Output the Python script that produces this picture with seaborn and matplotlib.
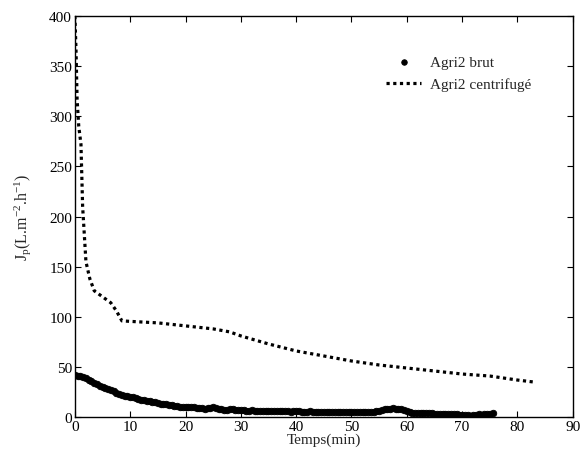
import seaborn as sns
import matplotlib.pyplot as plt

# Agri2 brut: permeate flux, one reading every 0.5 min
t_brut = [i * 0.5 for i in range(152)]
j_brut = [42, 41.5, 41, 40, 39, 37.5, 36, 34.5, 33, 31.5,
          30, 29, 28, 27, 26, 24.5, 23, 22, 21, 21,
          20.5, 20, 19, 18, 17.5, 17, 16.5, 16, 15.5, 15,
          14, 13.5, 13, 13, 12.5, 12, 11, 11, 10.5, 10.5,
          10.5, 10, 10, 10, 9.5, 9, 9, 8.5, 9, 9.5,
          10, 9.5, 8.5, 8, 7.5, 7.5, 8, 8, 7.5, 7,
          7, 7, 6.5, 6.5, 7, 6.5, 6.5, 6.5, 6, 6.5,
          6.5, 6, 6, 6.5, 6.5, 6, 6, 6, 5.5, 6,
          6, 6, 5.5, 5.5, 5.5, 6, 5.5, 5.5, 5.5, 5.5,
          5.5, 5.5, 5, 5, 5.5, 5, 5, 5, 5, 5,
          5, 5, 5, 5.5, 5, 5, 5, 5, 5.5, 6,
          6.5, 7.5, 8, 8.5, 8.5, 9, 8.5, 8.5, 8, 7.5,
          6.5, 5.5, 4.5, 4, 4, 4.5, 4.5, 4, 4, 4,
          3.5, 3.5, 3.5, 3, 3.5, 3, 3, 3, 3, 2.5,
          2.5, 2, 2, 1.5, 2, 2.5, 3, 2.5, 3, 3.5,
          3.5, 4.5]

# Agri2 centrifuge
t_centri = [0, 0.2, 0.4, 0.7, 1.1, 1.4, 2, 2.7, 3.5, 4.5, 5.5, 6.5,
            7.5, 8.5, 10, 15, 20, 25, 28, 30, 35, 40, 45, 50,
            55, 60, 65, 70, 75, 80, 83]
j_centri = [400, 367, 317, 290, 272, 210, 155, 138, 126, 122, 118, 114,
            106, 96, 95.5, 94, 91, 88, 85, 81, 73, 66, 61, 56,
            52, 49, 46, 43, 41, 37, 35]

x_ticks = [0, 10, 20, 30, 40, 50, 60, 70, 80, 90]
y_ticks = [0, 50, 100, 150, 200, 250, 300, 350, 400]

sns.set_theme(style='ticks')
plt.rcParams['font.family'] = ['Liberation Serif', 'DejaVu Serif']
plt.rcParams['mathtext.fontset'] = 'custom'
plt.rcParams['mathtext.rm'] = 'Liberation Serif'
plt.rcParams['mathtext.it'] = 'Liberation Serif:italic'

fig = plt.figure(figsize=(5.85, 4.6), dpi=100)
ax = fig.add_axes([0.128, 0.091, 0.851, 0.872])

sns.scatterplot(x=t_brut, y=j_brut, ax=ax, marker='o', s=22, color='black',
                edgecolor='black', linewidth=0.6, label='Agri2 brut', zorder=3)
sns.lineplot(x=t_centri, y=j_centri, ax=ax, color='black', linewidth=2.3,
             linestyle=(0, (1.0, 1.1)), label='Agri2 centrifugé', sort=False)

ax.set_xlim(0, 90)
ax.set_ylim(0, 400)
ax.set_xticks(x_ticks)
ax.set_yticks(y_ticks)
ax.tick_params(direction='in', top=True, right=True, length=4, width=0.8,
               labelsize=11, colors='black', pad=2)
for side in ax.spines.values():
    side.set_visible(True)
    side.set_color('black')
    side.set_linewidth(1.0)

ax.set_xlabel('Temps(min)', fontsize=11, labelpad=0)
ax.set_ylabel(r'J$_\mathrm{p}$(L.m$^{\mathrm{-2}}$.h$^{\mathrm{-1}}$)', fontsize=11.5, labelpad=12)

ax.legend(loc='upper left', bbox_to_anchor=(0.66, 0.878), bbox_transform=fig.transFigure,
          frameon=False, fontsize=11, handlelength=2.3, handletextpad=0.6,
          labelspacing=0.55, borderaxespad=0, borderpad=0, markerscale=0.85)

fig.savefig('out.png', dpi=100, facecolor='white')
